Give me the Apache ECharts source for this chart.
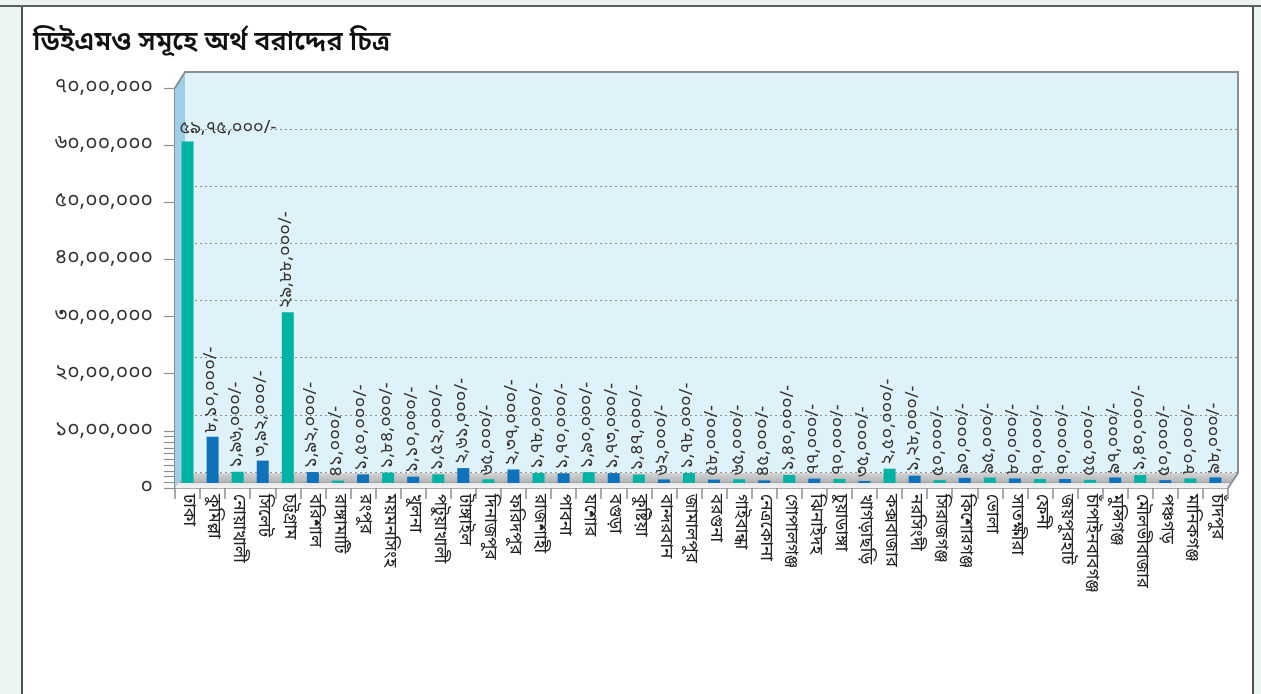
<!DOCTYPE html>
<html>
<head>
<meta charset="utf-8">
<script src="https://cdn.jsdelivr.net/npm/echarts@6/dist/echarts.min.js"></script>
<style>
  html, body { margin: 0; padding: 0; background: #edf5f1; width: 1261px; height: 694px; overflow: hidden; }
  #topline { position: absolute; left: 0; top: 5px; width: 1261px; height: 2px; background: #5a5f63; }
  #panel { position: absolute; left: 21px; top: 7px; width: 1229px; height: 700px; background: #ffffff; border-left: 2px solid #4d5256; border-right: 2px solid #4d5256; }
  #chart { position: absolute; left: 0; top: 0; width: 1261px; height: 694px; }
</style>
</head>
<body>
<div id="topline"></div>
<div id="panel"></div>
<div id="chart"></div>
<script>
const titleText = 'ডিইএমও সমূহে অর্থ বরাদ্দের চিত্র';

const districts = ['ঢাকা','কুমিল্লা','নোয়াখালী','সিলেট','চট্টগ্রাম','বরিশাল','রাঙ্গামাটি','রংপুর','ময়মনসিংহ','খুলনা','পটুয়াখালী','টাঙ্গাইল','দিনাজপুর','ফরিদপুর','রাজশাহী','পাবনা','যশোর','বগুড়া','কুষ্টিয়া','বান্দরবান','জামালপুর','বরগুনা','গাইবান্ধা','নেত্রকোনা','গোপালগঞ্জ','ঝিনাইদহ','চুয়াডাঙ্গা','খাগড়াছড়ি','কক্সবাজার','নরসিংদী','সিরাজগঞ্জ','কিশোরগঞ্জ','ভোলা','সাতক্ষীরা','ফেনী','জয়পুরহাট','চাঁপাইনবাবগঞ্জ','মুন্সিগঞ্জ','মৌলভীবাজার','পঞ্চগড়','মানিকগঞ্জ','চাঁদপুর'];

const allocation = [5975000, 810000, 196000, 392000, 2988000, 192000, 41000, 150000, 184000, 110000, 152000, 261000, 65000, 237000, 178000, 170000, 190000, 173000, 147000, 62000, 178000, 58000, 65000, 45000, 140000, 77000, 70000, 35000, 250000, 128000, 50000, 90000, 95000, 80000, 70000, 70000, 55000, 97000, 140000, 50000, 80000, 98000];

const yTickValues = [0, 100000, 200000, 300000, 400000, 500000, 600000, 700000, 800000, 900000, 1000000, 2000000, 3000000, 4000000, 5000000, 6000000, 7000000];
const yLabelValues = [0, 1000000, 2000000, 3000000, 4000000, 5000000, 6000000, 7000000];

const colorTeal = '#00b3a5';
const colorBlue = '#1172bc';

const BN = '০১২৩৪৫৬৭৮৯';
function bn(n) {
  const s = String(Math.round(n));
  const last3 = s.slice(-3);
  let rest = s.slice(0, -3);
  if (rest) rest = rest.replace(/\B(?=(\d{2})+(?!\d))/g, ',');
  const r = rest ? rest + ',' + last3 : last3;
  return r.replace(/\d/g, d => BN[d]);
}

const FONT = "'Noto Sans Bengali', 'Lohit Bengali', 'Noto Sans', sans-serif";

const chart = echarts.init(document.getElementById('chart'), null, { renderer: 'canvas' });

const barData = allocation.map((v, i) => {
  const item = { value: v, itemStyle: { color: i % 2 === 0 ? colorTeal : colorBlue } };
  if (i === 0) {
    item.label = { rotate: 0, align: 'left', verticalAlign: 'bottom', offset: [-8, 0], distance: 3 };
  }
  return item;
});

const option = {
  animation: false,
  backgroundColor: 'transparent',
  title: {
    text: titleText, left: 28, top: 26,
    textStyle: { fontFamily: FONT, fontSize: 27, fontWeight: 600, color: '#111' }
  },
  grid: [
    { left: 175, top: 88, width: 1053, height: 400, containLabel: false },
    { left: 175, top: 83, width: 1053, height: 400, containLabel: false },
    { left: 185, top: 72, width: 1053, height: 400, containLabel: false, show: true, backgroundColor: '#dff1f9', borderWidth: 0 }
  ],
  xAxis: [
    { gridIndex: 0, type: 'category', data: districts, boundaryGap: true,
      axisLine: { lineStyle: { color: '#8a8f94', width: 1.5 } },
      axisTick: { show: true, length: 11, lineStyle: { color: '#8a8f94', width: 1.5 } },
      axisLabel: { interval: 0, rotate: -90, margin: 6, fontFamily: FONT, fontSize: 17, color: '#222' } },
    { gridIndex: 1, type: 'category', data: districts, show: false },
    { gridIndex: 2, type: 'category', data: districts, show: false }
  ],
  yAxis: [
    { gridIndex: 0, type: 'value', min: 0, max: 7000000, interval: 1000000,
      axisLine: { show: true, lineStyle: { color: '#8a8f94', width: 2 } },
      axisTick: { show: true, length: 11, customValues: yTickValues, lineStyle: { color: '#8a8f94', width: 1.2 } },
      axisLabel: { margin: 22, customValues: yLabelValues, fontFamily: FONT, fontSize: 21, color: '#333', formatter: v => bn(v) },
      splitLine: { show: false } },
    { gridIndex: 1, type: 'value', min: 0, max: 7000000, interval: 1000000, show: false, splitLine: { show: false } },
    { gridIndex: 2, type: 'value', min: 0, max: 7000000, interval: 1000000,
      axisLine: { show: false }, axisTick: { show: false }, axisLabel: { show: false },
      splitLine: { show: true, lineStyle: { color: '#8c8f92', type: [2, 3], width: 1 } } }
  ],
  graphic: [
    { type: 'polygon', z: 1, silent: true,
      shape: { points: [[175, 488], [175, 88], [185, 72], [185, 473]] },
      style: { fill: '#9dcfe6' } },
    { type: 'polygon', z: 2, silent: true,
      shape: { points: [[175, 488], [185, 473], [1238, 473], [1228, 488]] },
      style: { fill: new echarts.graphic.LinearGradient(0, 0, 0, 1, [
        { offset: 0, color: '#d3d4d6' }, { offset: 0.55, color: '#b5b7b9' }, { offset: 0.66, color: '#a0a2a4' }, { offset: 0.7, color: '#e9e9e9' }, { offset: 1, color: '#f3f3f3' }
      ]) } },
    { type: 'polyline', z: 3, silent: true,
      shape: { points: [[175, 88], [185, 72], [1238, 72], [1238, 473], [1228, 488]] },
      style: { stroke: '#8a8f94', lineWidth: 2, fill: null } }
  ],
  series: [
    { type: 'bar', xAxisIndex: 1, yAxisIndex: 1, data: barData, barWidth: 12, z: 5,
      label: { show: true, position: 'top', rotate: 90, align: 'left', verticalAlign: 'middle', distance: 4,
        fontFamily: FONT, fontSize: 18, color: '#333', formatter: p => bn(p.value) + '/-' } }
  ]
};
chart.setOption(option);
</script>
</body>
</html>
